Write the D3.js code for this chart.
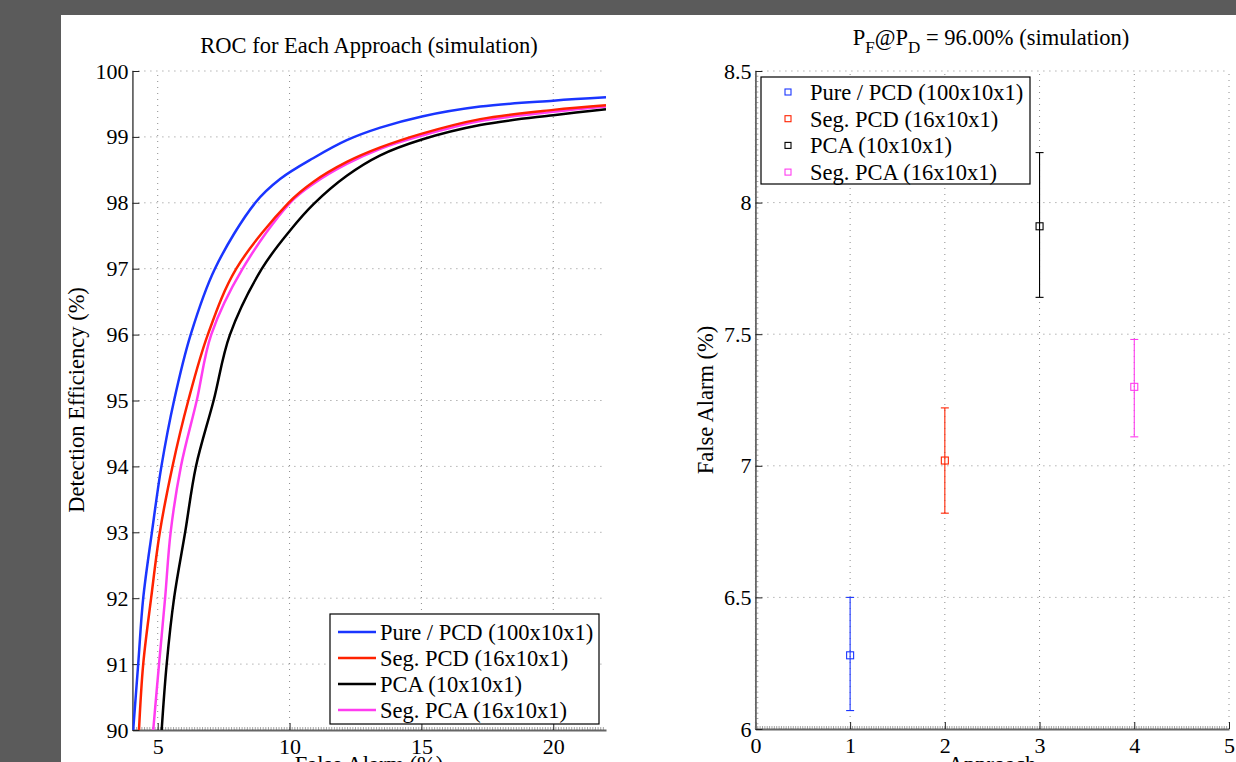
<!DOCTYPE html>
<html>
<head>
<meta charset="utf-8">
<script src="https://cdn.jsdelivr.net/npm/d3@7"></script>
<style>
  body { margin: 0; background: #5b5b5b; overflow: hidden; }
  svg text { font-family: "Liberation Serif", "Times New Roman", serif; fill: #000; }
</style>
</head>
<body>
<svg id="chart" width="1236" height="762"></svg>
<script>
(function () {
  // approaches and their colours
  const approaches = ["Pure / PCD (100x10x1)", "Seg. PCD (16x10x1)", "PCA (10x10x1)", "Seg. PCA (16x10x1)"];
  const colors = ["#1a35ff", "#ff2200", "#000000", "#ff3cf0"];

  // ROC curves: false alarm (%) -> detection efficiency (%)
  const pureFA = [4.07, 4.26, 4.45, 4.78, 5.14, 5.62, 6.25, 7.17, 8.70, 9.64, 10.91, 12.17, 13.44, 15.02, 17.23, 20.0, 22.0];
  const purePD = [90, 91, 92, 93, 94, 95, 96, 97, 98, 98.36, 98.68, 98.95, 99.14, 99.31, 99.46, 99.55, 99.6];
  const segPcdFA = [4.29, 4.45, 4.75, 5.08, 5.56, 6.16, 6.90, 7.98, 9.96, 10.91, 12.17, 13.44, 15.02, 17.23, 20.0, 22.0];
  const segPcdPD = [90, 91, 92, 93, 94, 95, 96, 97, 98, 98.32, 98.62, 98.84, 99.05, 99.27, 99.41, 99.48];
  const pcaFA = [5.15, 5.34, 5.62, 6.04, 6.45, 7.12, 7.74, 8.95, 10.02, 10.91, 12.17, 13.44, 15.02, 17.23, 20.0, 22.0];
  const pcaPD = [90, 91, 92, 93, 94, 95, 96, 97, 97.58, 97.98, 98.41, 98.72, 98.96, 99.18, 99.33, 99.42];
  const segPcaFA = [4.83, 5.05, 5.28, 5.49, 5.88, 6.48, 7.03, 8.22, 10.02, 10.91, 12.17, 13.44, 15.02, 17.23, 20.0, 22.0];
  const segPcaPD = [90, 91, 92, 93, 94, 95, 96, 97, 98, 98.29, 98.59, 98.82, 99.02, 99.24, 99.38, 99.46];

  // false alarm at PD = 96% with error bars
  const approachIdx = [1, 2, 3, 4];
  const faMean = [6.28, 7.02, 7.91, 7.30];
  const faLow = [6.07, 6.82, 7.64, 7.11];
  const faHigh = [6.50, 7.22, 8.19, 7.48];

  // tick values
  const rocXTicks = [5, 10, 15, 20];
  const rocYTicks = [90, 91, 92, 93, 94, 95, 96, 97, 98, 99, 100];
  const errXTicks = [0, 1, 2, 3, 4, 5];
  const errYTicks = [6, 6.5, 7, 7.5, 8, 8.5];

  const rocSeries = [
    { fa: pureFA, pd: purePD },
    { fa: segPcdFA, pd: segPcdPD },
    { fa: pcaFA, pd: pcaPD },
    { fa: segPcaFA, pd: segPcaPD }
  ];

  const svg = d3.select("#chart");

  // white figure area
  svg.append("rect")
    .attr("x", 61).attr("y", 15)
    .attr("width", 1300).attr("height", 800)
    .attr("fill", "#fff");

  const fontSize = 22.5;
  const tickFont = 22;
  const gridColor = "#8c8c8c";

  function drawFrame(g, x, y, xTicks, yTicks, xFmt, yFmt, xMinorStep, yMinorStep) {
    const [xa, xb] = x.range();
    const [ya, yb] = y.range(); // ya = bottom
    // grid
    g.selectAll(".vgrid").data(xTicks).join("line")
      .attr("x1", d => x(d)).attr("x2", d => x(d))
      .attr("y1", ya).attr("y2", yb)
      .attr("stroke", gridColor).attr("stroke-width", 1)
      .attr("stroke-dasharray", "1,5");
    g.selectAll(".hgrid").data(yTicks).join("line")
      .attr("x1", xa).attr("x2", xb)
      .attr("y1", d => y(d)).attr("y2", d => y(d))
      .attr("stroke", gridColor).attr("stroke-width", 1)
      .attr("stroke-dasharray", "1,5");

    // minor ticks
    if (xMinorStep) {
      const xm = d3.range(Math.ceil(x.domain()[0] / xMinorStep) * xMinorStep, x.domain()[1], xMinorStep);
      g.append("g").selectAll("line").data(xm).join("line")
        .attr("x1", d => x(d)).attr("x2", d => x(d))
        .attr("y1", ya).attr("y2", ya - 3)
        .attr("stroke", "#666").attr("stroke-width", 0.6);
    }
    if (yMinorStep) {
      const ym = d3.range(Math.ceil(y.domain()[0] / yMinorStep) * yMinorStep, y.domain()[1], yMinorStep);
      g.append("g").selectAll("line").data(ym).join("line")
        .attr("x1", xa).attr("x2", xa + 3)
        .attr("y1", d => y(d)).attr("y2", d => y(d))
        .attr("stroke", "#666").attr("stroke-width", 0.6);
    }

    // axes (ticks inward)
    const xAxis = d3.axisBottom(x).tickValues(xTicks).tickFormat(xFmt).tickSizeInner(-7).tickSizeOuter(0).tickPadding(8);
    const yAxis = d3.axisLeft(y).tickValues(yTicks).tickFormat(yFmt).tickSizeInner(-7).tickSizeOuter(0).tickPadding(4);

    const gx = g.append("g").attr("transform", `translate(0,${ya})`).call(xAxis);
    const gy = g.append("g").attr("transform", `translate(${xa},0)`).call(yAxis);
    [gx, gy].forEach(a => {
      a.select(".domain").attr("stroke", "#666").attr("stroke-width", 1.8);
      a.selectAll(".tick line").attr("stroke", "#222").attr("stroke-width", 1);
      a.selectAll(".tick text")
        .attr("font-family", "Liberation Serif, serif")
        .attr("font-size", tickFont)
        .attr("fill", "#000");
    });
    return { gx, gy };
  }

  // ---------- left: ROC ----------
  const rocX = d3.scaleLinear().domain([4.04, 22]).range([132.4, 606]);
  const rocY = d3.scaleLinear().domain([90, 100]).range([730, 71]);
  const left = svg.append("g");

  drawFrame(left, rocX, rocY, rocXTicks, rocYTicks, d3.format("d"), d3.format("d"), 0.1, null);

  left.append("clipPath").attr("id", "rocClip")
    .append("rect").attr("x", 132.4).attr("y", 71).attr("width", 606 - 132.4).attr("height", 730 - 71);

  const line = d3.line()
    .x(d => rocX(d[0]))
    .y(d => rocY(d[1]))
    .curve(d3.curveCatmullRom.alpha(0.5));

  // draw order so red sits just above magenta where they overlap
  [0, 2, 3, 1].forEach(i => {
    const s = rocSeries[i];
    const pts = s.fa.map((v, k) => [v, s.pd[k]]);
    left.append("path")
      .attr("d", line(pts))
      .attr("clip-path", "url(#rocClip)")
      .attr("fill", "none")
      .attr("stroke", colors[i])
      .attr("stroke-width", 2.5)
      .attr("stroke-linejoin", "round");
  });

  left.append("text")
    .attr("x", 369).attr("y", 53)
    .attr("text-anchor", "middle")
    .attr("font-size", fontSize)
    .text("ROC for Each Approach (simulation)");

  left.append("text")
    .attr("transform", "translate(84,400) rotate(-90)")
    .attr("text-anchor", "middle")
    .attr("font-size", fontSize)
    .text("Detection Efficiency (%)");

  left.append("text")
    .attr("x", 369).attr("y", 772)
    .attr("text-anchor", "middle")
    .attr("font-size", fontSize)
    .text("False Alarm (%)");

  // ROC legend
  const lg = left.append("g").attr("transform", "translate(330,614)");
  lg.append("rect").attr("width", 269).attr("height", 110)
    .attr("fill", "#fff").attr("stroke", "#000").attr("stroke-width", 1.2);
  approaches.forEach((name, i) => {
    const yy = 18 + i * 26;
    lg.append("line").attr("x1", 8).attr("x2", 46).attr("y1", yy).attr("y2", yy)
      .attr("stroke", colors[i]).attr("stroke-width", 2.5);
    lg.append("text").attr("x", 50).attr("y", yy).attr("dy", "0.35em")
      .attr("font-size", fontSize).text(name);
  });

  // ---------- right: false alarm at PD = 96% ----------
  const errX = d3.scaleLinear().domain([0, 5]).range([755.4, 1229]);
  const errY = d3.scaleLinear().domain([6, 8.5]).range([729, 71]);
  const right = svg.append("g");

  drawFrame(right, errX, errY, errXTicks, errYTicks, d3.format("d"), d => String(d), 0.025, 0.02);

  approachIdx.forEach((a, i) => {
    const cx = errX(a);
    const g = right.append("g").attr("stroke", colors[i]).attr("fill", "none").attr("stroke-width", 1.1);
    g.append("line").attr("x1", cx).attr("x2", cx).attr("y1", errY(faLow[i])).attr("y2", errY(faHigh[i]));
    [faLow[i], faHigh[i]].forEach(v => {
      g.append("line").attr("x1", cx - 4).attr("x2", cx + 4).attr("y1", errY(v)).attr("y2", errY(v));
    });
    g.append("rect").attr("x", cx - 3.5).attr("y", errY(faMean[i]) - 3.5)
      .attr("width", 7).attr("height", 7).attr("fill", "none");
  });

  const title2 = right.append("text")
    .attr("x", 991).attr("y", 45)
    .attr("text-anchor", "middle")
    .attr("font-size", fontSize);
  title2.append("tspan").text("P");
  title2.append("tspan").attr("dy", 8).attr("font-size", 17).text("F");
  title2.append("tspan").attr("dy", -8).text("@P");
  title2.append("tspan").attr("dy", 8).attr("font-size", 17).text("D");
  title2.append("tspan").attr("dy", -8).text(" = 96.00% (simulation)");

  right.append("text")
    .attr("transform", "translate(713,400) rotate(-90)")
    .attr("text-anchor", "middle")
    .attr("font-size", fontSize)
    .text("False Alarm (%)");

  right.append("text")
    .attr("x", 992).attr("y", 772)
    .attr("text-anchor", "middle")
    .attr("font-size", fontSize)
    .text("Approach");

  // marker legend
  const lg2 = right.append("g").attr("transform", "translate(761,77)");
  lg2.append("rect").attr("width", 269).attr("height", 107)
    .attr("fill", "#fff").attr("stroke", "#000").attr("stroke-width", 1.2);
  approaches.forEach((name, i) => {
    const yy = 15 + i * 26.7;
    lg2.append("rect").attr("x", 24).attr("y", yy - 3).attr("width", 6).attr("height", 6)
      .attr("fill", "none").attr("stroke", colors[i]).attr("stroke-width", 1.1);
    lg2.append("text").attr("x", 49).attr("y", yy).attr("dy", "0.35em")
      .attr("font-size", fontSize).text(name);
  });
})();
</script>
</body>
</html>
